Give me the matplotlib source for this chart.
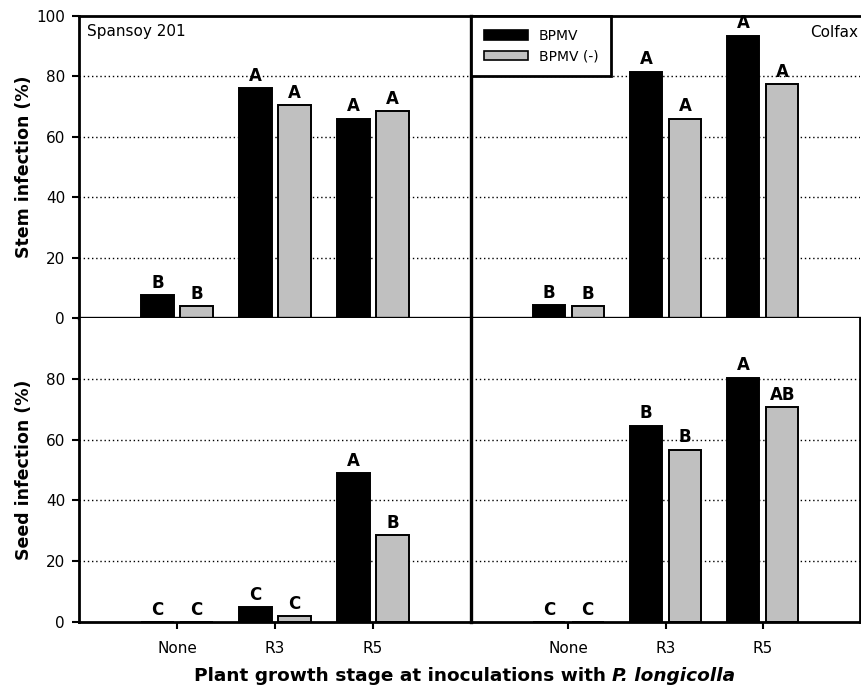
import matplotlib
matplotlib.use("Agg")
import matplotlib.pyplot as plt
import numpy as np
from matplotlib.patches import Patch

plt.rcParams['font.family'] = ['DejaVu Sans']

stages = ["None", "R3", "R5"]
series_names = ["BPMV", "BPMV (-)"]
colors = ["#000000", "#c0c0c0"]

# stem infection (%)
stem_spansoy_bpmv = [7.6, 76.0, 66.0]
stem_spansoy_neg = [3.9, 70.4, 68.4]
stem_colfax_bpmv = [4.3, 81.5, 93.4]
stem_colfax_neg = [3.9, 66.0, 77.4]
# seed infection (%)
seed_spansoy_bpmv = [0.0, 4.9, 49.0]
seed_spansoy_neg = [0.0, 1.9, 28.6]
seed_colfax_bpmv = [0.0, 64.5, 80.3]
seed_colfax_neg = [0.0, 56.7, 70.6]

# mean-separation letters
stem_spansoy_letters = [["B", "A", "A"], ["B", "A", "A"]]
stem_colfax_letters = [["B", "A", "A"], ["B", "A", "A"]]
seed_spansoy_letters = [["C", "C", "A"], ["C", "C", "B"]]
seed_colfax_letters = [["C", "B", "A"], ["C", "B", "AB"]]

fig = plt.figure(figsize=(8.62, 6.91), dpi=100)
W, H = 862, 691
x0, xm, x1 = 79, 471, 860
yt, ym, yb = 16, 318, 622


def ax_at(l, r, t, b):
    return fig.add_axes([l / W, 1 - b / H, (r - l) / W, (b - t) / H])


ax_tl = ax_at(x0, xm, yt, ym)
ax_tr = ax_at(xm, x1, yt, ym)
ax_bl = ax_at(x0, xm, ym, yb)
ax_br = ax_at(xm, x1, ym, yb)

panels = [
    (ax_tl, stem_spansoy_bpmv, stem_spansoy_neg, stem_spansoy_letters),
    (ax_tr, stem_colfax_bpmv, stem_colfax_neg, stem_colfax_letters),
    (ax_bl, seed_spansoy_bpmv, seed_spansoy_neg, seed_spansoy_letters),
    (ax_br, seed_colfax_bpmv, seed_colfax_neg, seed_colfax_letters),
]

x = np.arange(1, len(stages) + 1)
width = 0.33
offset = 0.2

for ax, a, b, letters in panels:
    ax.set_xlim(0, 4)
    ax.set_ylim(0, 100)
    for yv in [20, 40, 60, 80]:
        ax.axhline(yv, color="black", lw=1.0, ls=(0, (1, 2)), zorder=0)
    for k, (vals, c) in enumerate(zip([a, b], colors)):
        xs = x + (-offset if k == 0 else offset)
        ax.bar(xs, vals, width=width, color=c, edgecolor="black",
               linewidth=1.4, zorder=2)
        for xi, v, lab in zip(xs, vals, letters[k]):
            ax.annotate(lab, (xi, v), xytext=(0, 2.5), textcoords="offset points",
                        ha="center", va="bottom", fontsize=12,
                        fontweight="bold", zorder=3)
    for s in ax.spines.values():
        s.set_linewidth(2.0)
    ax.tick_params(axis="y", direction="out", length=5, width=1.5,
                   labelsize=11, pad=5)
    ax.tick_params(axis="x", direction="out", length=5, width=1.5,
                   labelsize=11, pad=9)
    ax.set_xticks(x)

# left column
ax_tl.set_yticks([0, 20, 40, 60, 80, 100])
ax_bl.set_yticks([0, 20, 40, 60, 80])
ax_tl.set_xticklabels([])
ax_bl.set_xticklabels(stages)
ax_br.set_xticklabels(stages)
ax_tl.spines["right"].set_visible(False)
ax_bl.spines["right"].set_visible(False)

# right column: no y ticks
for ax in (ax_tr, ax_br):
    ax.set_yticks([])
ax_tr.set_xticks([])
ax_tr.spines["right"].set_visible(False)
ax_tr.spines["left"].set_linewidth(2.4)
ax_br.spines["left"].set_linewidth(2.4)
ax_tl.spines["bottom"].set_linewidth(2.4)
ax_tr.spines["bottom"].set_linewidth(2.4)
ax_bl.spines["top"].set_visible(False)
ax_br.spines["top"].set_visible(False)

ax_tl.set_ylabel("Stem infection (%)", fontsize=12.5, fontweight="bold")
ax_bl.set_ylabel("Seed infection (%)", fontsize=12.5, fontweight="bold")
for ax in (ax_tl, ax_bl):
    ax.yaxis.set_label_coords(-0.118, 0.5)

ax_tl.text(0.02, 0.975, "Spansoy 201", transform=ax_tl.transAxes,
           ha="left", va="top", fontsize=11)
ax_tr.text(0.995, 0.97, "Colfax", transform=ax_tr.transAxes,
           ha="right", va="top", fontsize=11)

handles = [Patch(facecolor=c, edgecolor="black", linewidth=1.2, label=n)
           for c, n in zip(colors, series_names)]
leg = ax_tr.legend(handles=handles, loc="upper left", bbox_to_anchor=(0, 1),
                   borderaxespad=0, fancybox=False, framealpha=1,
                   edgecolor="black", fontsize=10, handlelength=3.2,
                   handleheight=0.7, borderpad=0.9, labelspacing=0.5,
                   handletextpad=0.8)
leg.get_frame().set_linewidth(2.0)
leg.set_zorder(5)

# x-axis title: upright bold part followed by bold-italic species name
renderer = fig.canvas.get_renderer()
part1 = "Plant growth stage at inoculations with "
part2 = "P. longicolla"
ty = 1 - 676 / H
t1 = fig.text(0, ty, part1, ha="left", va="center", fontsize=13.3,
              fontweight="bold")
t2 = fig.text(0, ty, part2, ha="left", va="center", fontsize=13.3,
              fontweight="bold", fontstyle="italic")
w1 = t1.get_window_extent(renderer).width
w2 = t2.get_window_extent(renderer).width
start = (x0 + x1) / 2 - 5 - (w1 + w2) / 2
t1.set_x(start / W)
t2.set_x((start + w1) / W)

fig.savefig("out.png", dpi=100)
